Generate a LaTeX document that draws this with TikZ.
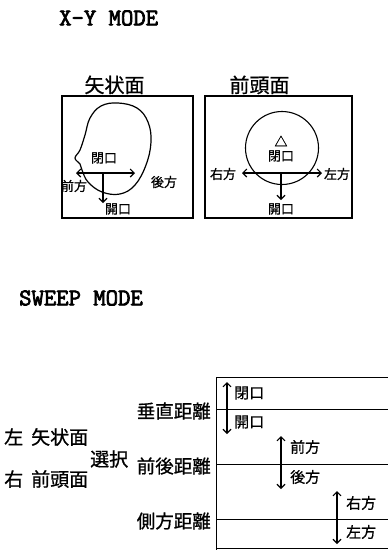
\documentclass[tikz,border=0pt]{standalone}
\usepackage{fontspec}
\newfontfamily\jpfont{Noto Sans CJK JP}[FakeBold=0.8]
\newfontfamily\typefont{Latin Modern Mono}[FakeBold=3]
\usetikzlibrary{arrows.meta,positioning}

\begin{document}
\begin{tikzpicture}[
  x=1pt, y=-1pt,
  modetitle/.style={anchor=west, inner sep=0pt, font=\typefont\fontsize{24}{24}\selectfont},
  plane/.style={inner sep=0pt, font=\jpfont\fontsize{20}{20}\selectfont},
  panel/.style={draw, line width=1.3pt, minimum width=#1, minimum height=122pt, inner sep=0pt},
  lbl/.style={inner sep=0pt, font=\jpfont\fontsize{13}{13}\selectfont},
  swlbl/.style={anchor=west, inner sep=0pt, font=\jpfont\fontsize{15}{15}\selectfont},
  axlbl/.style={anchor=east, inner sep=0pt, font=\jpfont\fontsize{18.5}{18.5}\selectfont},
  sel/.style={anchor=west, inner sep=0pt, font=\jpfont\fontsize{19}{19}\selectfont},
  arr/.style={-{Straight Barb[length=4pt, width=8pt]}, line width=1.1pt},
  dbl/.style={{Straight Barb[length=4pt, width=8pt]}-{Straight Barb[length=4pt, width=8pt]}, line width=1.1pt},
  grid/.style={line width=0.9pt}
]
  \useasboundingbox (0,0) rectangle (388,550);

  % --- X-Y MODE ---
  \node[modetitle] (xytitle) at (59,18) {X-Y MODE};

  % sagittal plane
  \node[panel=131pt] (sagbox) at (127.5,157) {};
  \node[plane, above=1pt of sagbox, xshift=-13pt] (sagname) {矢状面};
  \draw[line width=1.2pt] plot[smooth cycle, tension=0.65] coordinates {
    (90,118) (101,106) (118,103) (137,108) (148,122) (151,142) (146,165)
    (135,185) (120,194) (102,192) (88,182) (82,170) (80,164) (75,158)
    (80,150) (85,135)};
  \coordinate (sagL) at (76,173);
  \coordinate (sagR) at (135,173);
  \coordinate (sagC) at (103,173);
  \coordinate (sagD) at (103,203);
  \draw[dbl] (sagL) -- (sagR);
  \draw[arr] (sagC) -- (sagD);
  \node[lbl] (sagclose) at (104,158) {閉口};
  \node[lbl] (sagfwd) at (74,186) {前方};
  \node[lbl] (sagback) at (164,182) {後方};
  \node[lbl] (sagopen) at (118,209) {開口};

  % frontal plane
  \node[panel=147pt] (frobox) at (278.5,157) {};
  \node[plane, above=1pt of frobox, xshift=-19pt] (froname) {前頭面};
  \node[draw, circle, line width=1.1pt, minimum size=73pt] (face) at (282,148) {};
  \node[lbl] (mark) at (281,141) {△};
  \coordinate (froL) at (242,173);
  \coordinate (froR) at (322,173);
  \coordinate (froC) at (281,173);
  \coordinate (froD) at (281,200);
  \draw[dbl] (froL) -- (froR);
  \draw[arr] (froC) -- (froD);
  \node[lbl] (froclose) at (281,156) {閉口};
  \node[lbl] (froright) at (223,174) {右方};
  \node[lbl] (froleft) at (337,174) {左方};
  \node[lbl] (froopen) at (281,209) {開口};

  % --- SWEEP MODE ---
  \node[modetitle] (swtitle) at (19,298) {SWEEP MODE};

  \coordinate (axtop) at (216,377);
  \coordinate (axbot) at (216,552);
  \coordinate (axend) at (390,377);
  \draw[grid] (axbot) -- (axtop) -- (axend);
  \foreach \y/\name in {409/vert, 464/ap, 519/lat, 548/base} {
    \coordinate (\name0) at (216,\y);
    \coordinate (\name1) at (390,\y);
    \draw[grid] (\name0) -- (\name1);
  }
  \node[axlbl] (vertlbl) at (211,411) {垂直距離};
  \node[axlbl] (aplbl) at (211,466) {前後距離};
  \node[axlbl] (latlbl) at (211,521) {側方距離};

  % sweep traces
  \coordinate (vertA) at (227,382);
  \coordinate (vertB) at (227,434);
  \coordinate (apA) at (281,436);
  \coordinate (apB) at (281,489);
  \coordinate (latA) at (337,491);
  \coordinate (latB) at (337,544);
  \draw[dbl] (vertA) -- (vertB);
  \draw[dbl] (apA) -- (apB);
  \draw[dbl] (latA) -- (latB);
  \node[swlbl] (vertup) at (234,393) {閉口};
  \node[swlbl] (vertdn) at (234,422) {開口};
  \node[swlbl] (apup) at (290,447) {前方};
  \node[swlbl] (apdn) at (290,477) {後方};
  \node[swlbl] (latup) at (346,503) {右方};
  \node[swlbl] (latdn) at (346,532) {左方};

  % plane selection
  \node[sel] (selsag) at (4,437) {左\hspace{8pt}矢状面};
  \node[sel] (selfro) at (4,479) {右\hspace{8pt}前頭面};
  \node[sel] (selword) at (90,459) {選択};
\end{tikzpicture}
\end{document}
